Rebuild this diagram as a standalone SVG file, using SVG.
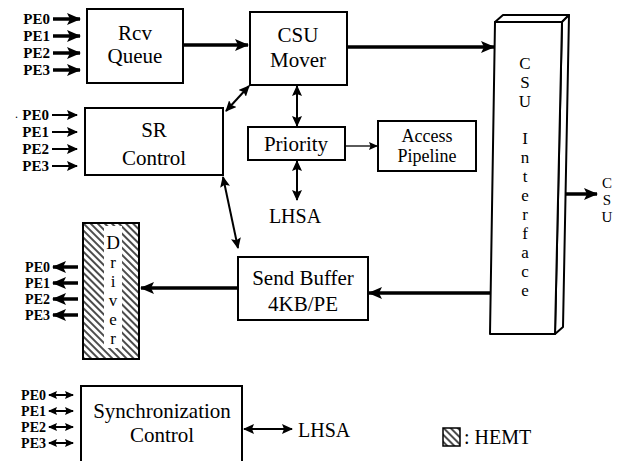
<svg xmlns="http://www.w3.org/2000/svg" width="618" height="461" viewBox="0 0 618 461">
<style>
text{font-family:"Liberation Serif","Times New Roman",serif;fill:#000}
.lbl{font-size:21px;text-anchor:middle}
.vl{font-size:17px;text-anchor:middle}
.pe{font-size:15px;font-weight:bold;text-anchor:end}
.pes{font-size:14px;font-weight:bold;text-anchor:end}
.box{fill:#fff;stroke:#000;stroke-width:2}
.thick{stroke:#000;stroke-width:3.5;fill:none}
.med{stroke:#000;stroke-width:2;fill:none}
.thin{stroke:#000;stroke-width:1.3;fill:none}
</style>
<defs>
<marker id="ah" markerUnits="userSpaceOnUse" markerWidth="14" markerHeight="12" refX="13" refY="6" orient="auto-start-reverse"><path d="M0,0 L14,6 L0,12 L3,6 z" fill="#000"/></marker>
<marker id="am" markerUnits="userSpaceOnUse" markerWidth="11" markerHeight="10" refX="10" refY="5" orient="auto-start-reverse"><path d="M0,0 L11,5 L0,10 L2,5 z" fill="#000"/></marker>
<marker id="as" markerUnits="userSpaceOnUse" markerWidth="9" markerHeight="8" refX="8" refY="4" orient="auto-start-reverse"><path d="M0,0 L9,4 L0,8 L1.5,4 z" fill="#000"/></marker>
<pattern id="hatch" patternUnits="userSpaceOnUse" width="5" height="5" patternTransform="rotate(-45)"><rect width="5" height="5" fill="#fff"/><line x1="1" y1="0" x2="1" y2="5" stroke="#000" stroke-width="1.4"/></pattern>
</defs>

<g id="connectors">
<line class="thick" x1="184" y1="45" x2="248" y2="45" marker-end="url(#ah)"/>
<line class="thick" x1="347" y1="47" x2="494" y2="47" marker-end="url(#ah)"/>
<line class="med" x1="297" y1="86" x2="297" y2="126" marker-start="url(#am)" marker-end="url(#am)"/>
<line class="med" x1="297" y1="161" x2="297" y2="200" marker-start="url(#am)" marker-end="url(#am)"/>
<line class="thin" x1="345" y1="146" x2="377" y2="146" marker-end="url(#as)"/>
<line class="med" x1="226" y1="111" x2="249" y2="86" marker-start="url(#am)" marker-end="url(#am)"/>
<line class="med" x1="223" y1="177" x2="238" y2="248" marker-start="url(#am)" marker-end="url(#am)"/>
<line class="thick" x1="490" y1="293" x2="369" y2="293" marker-end="url(#ah)"/>
<line class="thick" x1="237" y1="288" x2="141" y2="288" marker-end="url(#ah)"/>
<line class="thick" x1="563" y1="194" x2="597" y2="194" marker-end="url(#ah)"/>
<line class="med" x1="244" y1="429" x2="292" y2="429" marker-start="url(#am)" marker-end="url(#am)"/>
<line class="thick" x1="53" y1="19" x2="80" y2="19" marker-end="url(#ah)"/>
<line class="thick" x1="53" y1="36" x2="80" y2="36" marker-end="url(#ah)"/>
<line class="thick" x1="53" y1="53" x2="80" y2="53" marker-end="url(#ah)"/>
<line class="thick" x1="53" y1="70" x2="80" y2="70" marker-end="url(#ah)"/>
<line class="med" x1="52" y1="115" x2="77" y2="115" marker-end="url(#am)"/>
<line class="med" x1="52" y1="132" x2="77" y2="132" marker-end="url(#am)"/>
<line class="med" x1="52" y1="149" x2="77" y2="149" marker-end="url(#am)"/>
<line class="med" x1="52" y1="166" x2="77" y2="166" marker-end="url(#am)"/>
<line class="thick" x1="78" y1="267" x2="53" y2="267" marker-end="url(#ah)"/>
<line class="thick" x1="78" y1="283" x2="53" y2="283" marker-end="url(#ah)"/>
<line class="thick" x1="78" y1="299" x2="53" y2="299" marker-end="url(#ah)"/>
<line class="thick" x1="78" y1="315" x2="53" y2="315" marker-end="url(#ah)"/>
<line class="med" x1="49" y1="395" x2="73" y2="395" marker-start="url(#as)" marker-end="url(#as)"/>
<line class="med" x1="49" y1="411" x2="73" y2="411" marker-start="url(#as)" marker-end="url(#as)"/>
<line class="med" x1="49" y1="427" x2="73" y2="427" marker-start="url(#as)" marker-end="url(#as)"/>
<line class="med" x1="49" y1="443" x2="73" y2="443" marker-start="url(#as)" marker-end="url(#as)"/>
</g>

<g id="pe-labels">
<text class="pe" x="50" y="24">PE0</text>
<text class="pe" x="50" y="41">PE1</text>
<text class="pe" x="50" y="58">PE2</text>
<text class="pe" x="50" y="75">PE3</text>
<text x="15" y="118" style="font-size:12px">.</text>
<text class="pe" x="49" y="120">PE0</text>
<text class="pe" x="49" y="137">PE1</text>
<text class="pe" x="49" y="154">PE2</text>
<text class="pe" x="49" y="171">PE3</text>
<text class="pes" x="50" y="272">PE0</text>
<text class="pes" x="50" y="288">PE1</text>
<text class="pes" x="50" y="304">PE2</text>
<text class="pes" x="50" y="320">PE3</text>
<text class="pes" x="46" y="400">PE0</text>
<text class="pes" x="46" y="416">PE1</text>
<text class="pes" x="46" y="432">PE2</text>
<text class="pes" x="46" y="448">PE3</text>
</g>

<g id="rcv-queue">
<rect class="box" x="87" y="9" width="96" height="74"/>
<text class="lbl" x="135" y="40">Rcv</text>
<text class="lbl" x="135" y="63">Queue</text>
</g>

<g id="csu-mover">
<rect class="box" x="250" y="12" width="97" height="73"/>
<text class="lbl" x="298" y="42">CSU</text>
<text class="lbl" x="298" y="67">Mover</text>
</g>

<g id="sr-control">
<rect class="box" x="85" y="108" width="138" height="67"/>
<text class="lbl" x="154" y="137">SR</text>
<text class="lbl" x="154" y="165">Control</text>
</g>

<g id="priority">
<rect class="box" x="248" y="127" width="97" height="33"/>
<text class="lbl" x="296" y="151">Priority</text>
</g>

<g id="lhsa-top">
<text class="lbl" x="295" y="223" style="font-size:20px">LHSA</text>
</g>

<g id="access-pipeline">
<rect class="box" x="378" y="121" width="98" height="50"/>
<text class="lbl" x="427" y="142" style="font-size:18px">Access</text>
<text class="lbl" x="427" y="162" style="font-size:18px">Pipeline</text>
</g>

<g id="csu-interface">
<polygon points="495,22 503,15 569,15 562,22" fill="#fff" stroke="#000" stroke-width="2" stroke-linejoin="round"/>
<polygon points="562,22 569,15 563,327 555,334" fill="#fff" stroke="#000" stroke-width="2" stroke-linejoin="round"/>
<polygon points="495,22 562,22 555,334 490,334" fill="#fff" stroke="#000" stroke-width="2" stroke-linejoin="round"/>
<text class="vl" x="525" y="69">C</text>
<text class="vl" x="525" y="88">S</text>
<text class="vl" x="525" y="107">U</text>
<text class="vl" x="525" y="144">I</text>
<text class="vl" x="525" y="163">n</text>
<text class="vl" x="525" y="182">t</text>
<text class="vl" x="525" y="201">e</text>
<text class="vl" x="525" y="220">r</text>
<text class="vl" x="525" y="239">f</text>
<text class="vl" x="525" y="258">a</text>
<text class="vl" x="525" y="277">c</text>
<text class="vl" x="525" y="296">e</text>
</g>

<g id="csu-out">
<text class="vl" x="607" y="188" style="font-size:15px">C</text>
<text class="vl" x="607" y="205" style="font-size:15px">S</text>
<text class="vl" x="607" y="222" style="font-size:15px">U</text>
</g>

<g id="send-buffer">
<rect class="box" x="238" y="257" width="130" height="63"/>
<text class="lbl" x="303" y="285">Send Buffer</text>
<text class="lbl" x="303" y="311">4KB/PE</text>
</g>

<g id="driver">
<rect x="83" y="223" width="56" height="136" fill="url(#hatch)" stroke="#000" stroke-width="2"/>
<rect x="104" y="226" width="18" height="122" fill="#fff"/>
<text class="vl" x="113" y="249" style="font-size:19px">D</text>
<text class="vl" x="113" y="268">r</text>
<text class="vl" x="113" y="287">i</text>
<text class="vl" x="113" y="306">v</text>
<text class="vl" x="113" y="325">e</text>
<text class="vl" x="113" y="344">r</text>
</g>

<g id="sync-control">
<rect class="box" x="81" y="386" width="161" height="76"/>
<text class="lbl" x="162" y="418">Synchronization</text>
<text class="lbl" x="162" y="442">Control</text>
</g>

<g id="lhsa-bottom">
<text x="298" y="437" style="font-size:20px">LHSA</text>
</g>

<g id="legend">
<rect x="443" y="428" width="17" height="18" fill="url(#hatch)" stroke="#000" stroke-width="1.5"/>
<text x="464" y="444" style="font-size:20px">: HEMT</text>
</g>
</svg>
